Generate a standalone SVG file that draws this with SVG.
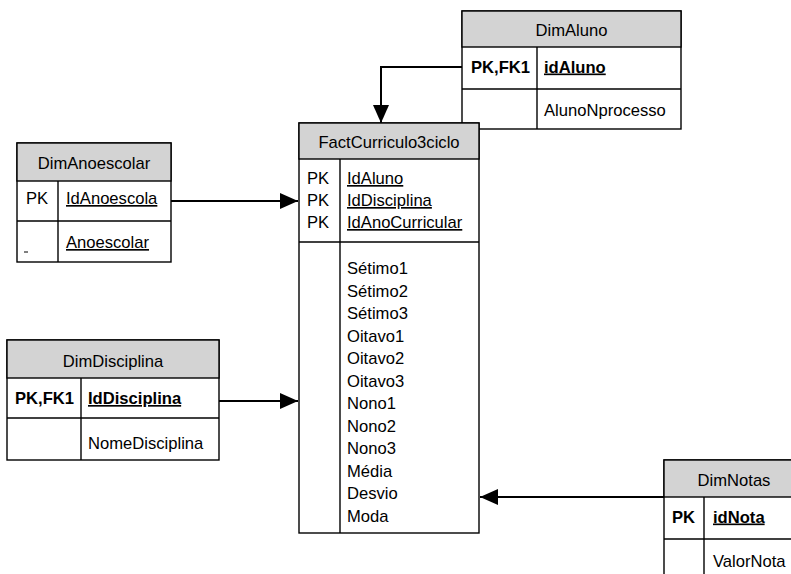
<svg xmlns="http://www.w3.org/2000/svg" width="791" height="574" viewBox="0 0 791 574">
<defs>
<style>
.box{fill:#ffffff;stroke:#000;stroke-width:1.4}
.hdr{fill:#d3d3d3;stroke:#000;stroke-width:1.4}
.ln{stroke:#000;stroke-width:1.4;fill:none}
.t{font-family:"Liberation Sans",Arial,sans-serif;font-size:16.6px;fill:#000}
.c{text-anchor:middle}
.b{font-weight:bold}
.u{text-decoration:underline}
.con{stroke:#000;stroke-width:2;fill:none;marker-end:url(#arr)}
</style>
<marker id="arr" markerUnits="userSpaceOnUse" markerWidth="18" markerHeight="16" refX="18" refY="8" orient="auto">
<path d="M0,0 L18,8 L0,16 Z" fill="#000"/>
</marker>
</defs>
<rect width="791" height="574" fill="#fff"/>

<g id="connectors">
<path class="con" d="M462,67 H381 V123"/>
<path class="con" d="M171,201 H298"/>
<path class="con" d="M219,401 H298"/>
<path class="con" d="M664,497 H480"/>
</g>

<g id="DimAluno">
<rect class="box" x="462" y="11" width="219" height="118"/>
<rect class="hdr" x="462" y="11" width="219" height="36"/>
<line class="ln" x1="462" y1="89" x2="681" y2="89"/>
<line class="ln" x1="537" y1="47" x2="537" y2="129"/>
<text class="t c" x="571.5" y="36">DimAluno</text>
<text class="t b" x="471" y="72.5">PK,FK1</text>
<text class="t b u" x="544" y="72.5">idAluno</text>
<text class="t" x="544" y="116">AlunoNprocesso</text>
</g>

<g id="FactCurriculo3ciclo">
<rect class="box" x="299" y="123" width="180" height="410"/>
<rect class="hdr" x="299" y="123" width="180" height="36"/>
<line class="ln" x1="299" y1="242" x2="479" y2="242"/>
<line class="ln" x1="340" y1="159" x2="340" y2="533"/>
<text class="t c" x="389" y="148">FactCurriculo3ciclo</text>
<text class="t" x="307" y="184">PK</text>
<text class="t" x="307" y="206">PK</text>
<text class="t" x="307" y="228">PK</text>
<text class="t u" x="347" y="184">IdAluno</text>
<text class="t u" x="347" y="206">IdDisciplina</text>
<text class="t u" x="347" y="228">IdAnoCurricular</text>
<text class="t" x="347" y="274">Sétimo1</text>
<text class="t" x="347" y="296.5">Sétimo2</text>
<text class="t" x="347" y="319">Sétimo3</text>
<text class="t" x="347" y="341.5">Oitavo1</text>
<text class="t" x="347" y="364">Oitavo2</text>
<text class="t" x="347" y="386.5">Oitavo3</text>
<text class="t" x="347" y="409">Nono1</text>
<text class="t" x="347" y="431.5">Nono2</text>
<text class="t" x="347" y="454">Nono3</text>
<text class="t" x="347" y="476.5">Média</text>
<text class="t" x="347" y="499">Desvio</text>
<text class="t" x="347" y="521.5">Moda</text>
</g>

<g id="DimAnoescolar">
<rect class="box" x="17" y="143" width="154" height="119"/>
<rect class="hdr" x="17" y="143" width="154" height="38"/>
<line class="ln" x1="17" y1="221" x2="171" y2="221"/>
<line class="ln" x1="58" y1="181" x2="58" y2="262"/>
<text class="t c" x="94" y="169">DimAnoescolar</text>
<text class="t" x="26" y="204">PK</text>
<text class="t u" x="66" y="204">IdAnoescola</text>
<line x1="24" y1="252" x2="28" y2="252" stroke="#000" stroke-width="1"/>
<text class="t u" x="66" y="248">Anoescolar</text>
</g>

<g id="DimDisciplina">
<rect class="box" x="7" y="340" width="212" height="120"/>
<rect class="hdr" x="7" y="340" width="212" height="38"/>
<line class="ln" x1="7" y1="418" x2="219" y2="418"/>
<line class="ln" x1="81" y1="378" x2="81" y2="460"/>
<text class="t c" x="113" y="367">DimDisciplina</text>
<text class="t b" x="15" y="404">PK,FK1</text>
<text class="t b u" x="88" y="404">IdDisciplina</text>
<text class="t" x="88" y="449">NomeDisciplina</text>
</g>

<g id="DimNotas">
<rect class="box" x="664" y="460" width="140" height="130"/>
<rect class="hdr" x="664" y="460" width="140" height="37"/>
<line class="ln" x1="664" y1="539" x2="804" y2="539"/>
<line class="ln" x1="704" y1="497" x2="704" y2="590"/>
<text class="t c" x="734" y="486">DimNotas</text>
<text class="t b" x="672" y="522.5">PK</text>
<text class="t b u" x="713" y="522.5">idNota</text>
<text class="t" x="713" y="566.5">ValorNota</text>
</g>
</svg>
